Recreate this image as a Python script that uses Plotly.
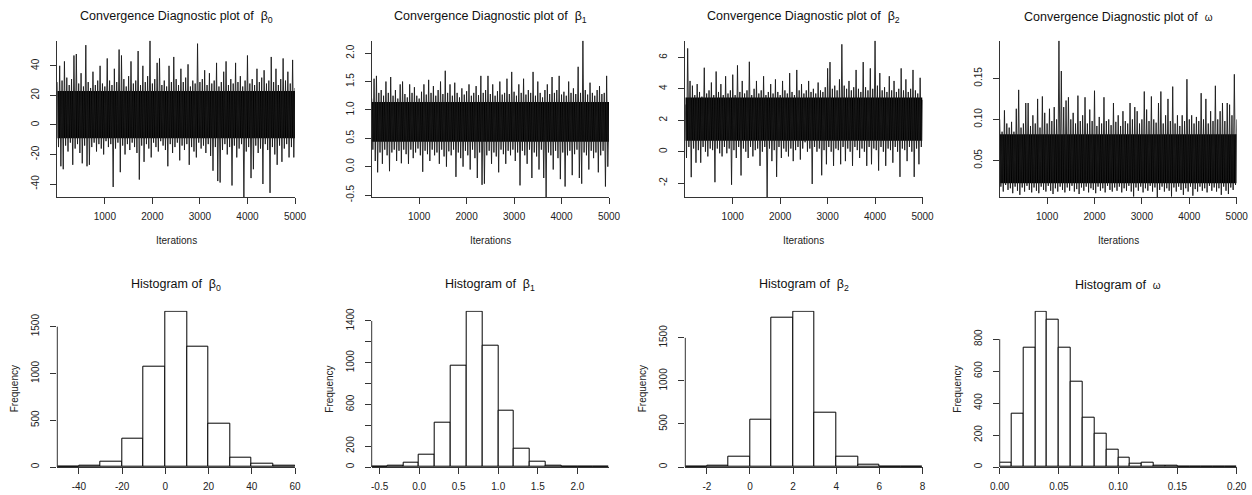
import plotly.graph_objects as go

W, H = 1252, 495
N_ITER = 5000
STEP = 50  # iteration spacing of the envelope values

# ---- trace plots: upper envelope (iters 0,50,..,5000) and lower envelope (iters 25,75,..,4975)
b0_hi = [29, 40, 30, 43, 32, 27, 31, 47, 48, 28,
         35, 26, 54, 29, 25, 36, 27, 30, 40, 28,
         26, 45, 30, 27, 38, 29, 51, 47, 31, 26,
         33, 43, 28, 30, 50, 27, 40, 29, 33, 57,
         28, 31, 42, 45, 27, 30, 26, 40, 29, 46,
         31, 27, 38, 29, 32, 41, 26, 30, 28, 55,
         29, 31, 37, 27, 35, 28, 30, 42, 26, 29,
         36, 43, 27, 31, 28, 42, 29, 33, 26, 30,
         47, 28, 31, 27, 38, 29, 32, 37, 28, 30,
         46, 29, 38, 27, 31, 45, 30, 36, 28, 44,
         25]
b0_lo = [-15, -28, -30, -14, -18, -12, -27, -16, -13, -19,
         -26, -14, -28, -27, -15, -12, -18, -13, -16, -20,
         -11, -15, -13, -42, -16, -12, -32, -14, -20, -13,
         -17, -12, -15, -19, -37, -14, -25, -13, -16, -22,
         -12, -15, -18, -11, -14, -17, -28, -13, -19, -15,
         -12, -24, -14, -17, -13, -27, -15, -18, -22, -12,
         -16, -14, -19, -13, -21, -31, -15, -38, -39, -17,
         -13, -20, -15, -41, -14, -22, -16, -13, -49, -18,
         -15, -36, -30, -14, -19, -16, -40, -13, -17, -46,
         -15, -20, -27, -14, -25, -16, -13, -22, -15, -22]
b0_core = [-9, 23]

b1_hi = [1.2, 1.55, 1.6, 1.3, 1.35, 1.25, 1.5, 1.3, 1.58, 1.25,
         1.35, 1.2, 1.45, 1.5, 1.28, 1.22, 1.45, 1.3, 1.4, 1.25,
         1.2, 1.32, 1.45, 1.27, 1.53, 1.3, 1.42, 1.25, 1.35, 1.5,
         1.28, 1.69, 1.3, 1.45, 1.25, 1.48, 1.3, 1.22, 1.38, 1.27,
         1.33, 1.45, 1.25, 1.3, 1.42, 1.26, 1.6, 1.3, 1.35, 1.6,
         1.28, 1.45, 1.25, 1.33, 1.5, 1.27, 1.3, 1.55, 1.28, 1.67,
         1.32, 1.25, 1.45, 1.3, 1.55, 1.27, 1.35, 1.3, 1.67, 1.25,
         1.5, 1.3, 1.22, 1.35, 1.45, 1.28, 1.58, 1.3, 1.35, 1.6,
         1.27, 1.32, 1.25, 1.5, 1.3, 1.38, 1.28, 1.76, 1.3, 2.22,
         1.35, 1.27, 1.48, 1.3, 1.25, 1.35, 1.42, 1.28, 1.3, 1.6,
         1.0]
b1_lo = [0.3, 0.1, -0.1, 0.25, 0.05, 0.3, 0.2, -0.08, 0.25, 0.3,
         0.1, 0.28, 0.06, 0.3, 0.22, 0.05, 0.3, 0.15, 0.25, 0.32,
         0.2, -0.09, 0.28, 0.22, 0.1, 0.3, 0.2, 0.25, 0.05, 0.3,
         0.18, 0.0, 0.27, 0.2, 0.3, -0.18, 0.25, 0.15, 0.0, 0.28,
         0.2, -0.05, 0.3, 0.15, -0.2, 0.25, -0.32, -0.3, 0.2, 0.28,
         0.05, 0.25, 0.18, -0.1, 0.3, 0.22, 0.05, 0.28, 0.2, 0.3,
         0.1, 0.25, -0.33, 0.28, 0.2, 0.05, 0.3, -0.2, 0.25, 0.18,
         -0.05, 0.3, -0.2, -0.54, 0.25, 0.2, -0.05, 0.28, 0.15, -0.22,
         0.25, -0.35, 0.2, 0.28, -0.15, 0.22, 0.3, -0.2, -0.3, 0.25,
         0.2, -0.05, 0.28, 0.15, 0.25, -0.1, 0.2, 0.28, -0.35, 0.0]
b1_core = [0.44, 1.14]

b2_hi = [3.0, 6.57, 4.5, 4.2, 3.6, 4.3, 3.8, 3.5, 5.34, 3.7,
         3.9, 4.4, 3.6, 5.1, 3.8, 4.3, 3.6, 4.8, 3.7, 3.9,
         4.9, 3.6, 5.49, 3.8, 4.5, 3.7, 3.9, 5.72, 3.6, 4.0,
         4.5, 3.7, 3.9, 4.8, 3.6, 3.8, 4.3, 3.7, 4.6, 3.8,
         3.6, 4.5, 3.9, 3.7, 5.0, 3.8, 3.6, 5.2, 3.9, 4.3,
         3.7, 3.9, 4.5, 3.8, 4.0, 3.7, 4.4, 3.9, 3.8, 4.1,
         5.3, 5.7, 4.0, 4.2, 3.9, 4.6, 6.83, 4.2, 4.0, 4.5,
         3.9, 4.1, 5.2, 4.0, 3.8, 5.7, 4.1, 3.9, 5.3, 4.0,
         7.06, 4.2, 5.0, 3.9, 4.1, 3.8, 4.8, 3.9, 4.5, 3.8,
         4.0, 5.3, 3.9, 4.6, 3.8, 4.0, 5.2, 3.9, 3.7, 4.7,
         3.3]
b2_lo = [-0.4, 0.3, -1.62, 0.2, -0.7, 0.1, -0.7, 0.3, 0.0, -0.3,
         0.2, 0.1, -1.94, 0.2, -0.1, -0.3, 0.3, -0.1, 0.2, -2.1,
         0.1, -0.4, 0.3, -1.51, 0.2, 0.0, -0.4, 0.3, -0.3, 0.1,
         0.2, -0.9, 0.0, 0.3, -2.9, 0.2, -0.6, 0.1, -1.6, 0.3,
         -0.4, 0.2, 0.0, -0.3, 0.2, -0.6, 0.1, 0.3, -0.5, 0.2,
         0.6, 0.0, 0.2, -2.05, 0.3, 0.0, 0.2, -1.5, 0.1, -0.8,
         0.3, 0.0, -0.9, 0.2, 0.1, -0.8, 0.3, -0.6, 0.2, 0.0,
         -0.9, 0.3, 0.1, -0.4, 0.2, 0.0, -0.9, 0.3, -0.8, 0.2,
         0.1, -1.2, 0.3, 0.0, -0.9, 0.2, 0.1, -0.7, 0.3, 0.0,
         -1.6, 0.2, 0.1, -0.6, 0.3, 0.0, -1.6, 0.2, -0.8, 0.3]
b2_core = [0.7, 3.45]

om_hi = [0.100, 0.085, 0.111, 0.095, 0.090, 0.097, 0.085, 0.113, 0.136, 0.090,
         0.095, 0.120, 0.120, 0.092, 0.105, 0.095, 0.125, 0.090, 0.128, 0.108,
         0.095, 0.113, 0.098, 0.115, 0.100, 0.196, 0.159, 0.115, 0.123, 0.127,
         0.100, 0.108, 0.095, 0.129, 0.098, 0.105, 0.127, 0.095, 0.112, 0.098,
         0.135, 0.092, 0.103, 0.095, 0.127, 0.098, 0.100, 0.093, 0.120, 0.097,
         0.105, 0.092, 0.110, 0.098, 0.095, 0.120, 0.100, 0.115, 0.110, 0.095,
         0.100, 0.134, 0.112, 0.098, 0.128, 0.100, 0.096, 0.120, 0.134, 0.095,
         0.105, 0.125, 0.098, 0.140, 0.095, 0.105, 0.092, 0.105, 0.098, 0.149,
         0.100, 0.105, 0.095, 0.103, 0.098, 0.132, 0.100, 0.125, 0.095, 0.110,
         0.098, 0.141, 0.100, 0.110, 0.120, 0.098, 0.120, 0.118, 0.105, 0.155,
         0.100]
om_lo = [0.018, 0.012, 0.020, 0.014, 0.016, 0.010, 0.018, 0.013, 0.008, 0.017,
         0.012, 0.019, 0.014, 0.011, 0.017, 0.013, 0.010, 0.018, 0.014, 0.012,
         0.019, 0.013, 0.009, 0.016, 0.012, 0.018, 0.014, 0.011, 0.017, 0.013,
         0.019, 0.012, 0.015, 0.009, 0.017, 0.013, 0.018, 0.011, 0.016, 0.014,
         0.010, 0.018, 0.013, 0.016, 0.011, 0.019, 0.014, 0.012, 0.017, 0.013,
         0.018, 0.011, 0.016, 0.013, 0.019, 0.012, 0.006, 0.017, 0.013, 0.018,
         0.011, 0.016, 0.013, 0.019, 0.012, 0.017, 0.005, 0.014, 0.018, 0.012,
         0.016, 0.013, 0.006, 0.017, 0.012, 0.018, 0.014, 0.008, 0.016, 0.012,
         0.018, 0.007, 0.015, 0.012, 0.018, 0.013, 0.016, 0.011, 0.019, 0.013,
         0.017, 0.012, 0.016, 0.008, 0.018, 0.013, 0.009, 0.017, 0.014, 0.020]
om_core = [0.022, 0.082]

# ---- histograms: bin edges and counts
h_b0_edges = [-50, -40, -30, -20, -10, 0, 10, 20, 30, 40, 50, 60]
h_b0_counts = [5, 10, 62, 300, 1070, 1660, 1290, 468, 100, 33, 12]
h_b1_edges = [-0.6, -0.4, -0.2, 0.0, 0.2, 0.4, 0.6, 0.8, 1.0, 1.2, 1.4, 1.6, 1.8, 2.0, 2.2, 2.4]
h_b1_counts = [0, 12, 41, 121, 422, 968, 1489, 1162, 536, 175, 51, 12, 1, 0, 1]
h_b2_edges = [-3, -2, -1, 0, 1, 2, 3, 4, 5, 6, 7, 8]
h_b2_counts = [1, 19, 115, 550, 1739, 1804, 635, 115, 23, 2, 1]
h_om_edges = [0.00, 0.01, 0.02, 0.03, 0.04, 0.05, 0.06, 0.07, 0.08, 0.09, 0.10,
              0.11, 0.12, 0.13, 0.14, 0.15, 0.16, 0.17, 0.18, 0.19, 0.20]
h_om_counts = [29, 334, 748, 972, 925, 744, 531, 311, 209, 110, 60, 23, 29, 8, 8, 1, 0, 0, 0, 1]

# ---- tick labels
iter_ticks = [1000, 2000, 3000, 4000, 5000]
tr_b0_ticks = [-40, -20, 0, 20, 40]
tr_b1_ticks = [-0.5, 0.0, 0.5, 1.0, 1.5, 2.0]
tr_b2_ticks = [-2, 0, 2, 4, 6]
tr_om_ticks = [0.05, 0.10, 0.15]
hx_b0_ticks = [-40, -20, 0, 20, 40, 60]
hx_b1_ticks = [-0.5, 0.0, 0.5, 1.0, 1.5, 2.0]
hx_b2_ticks = [-2, 0, 2, 4, 6, 8]
hx_om_ticks = [0.00, 0.05, 0.10, 0.15, 0.20]
hy_b0_ticks = [0, 500, 1000, 1500]
hy_b1_ticks = [0, 200, 600, 1000, 1400]
hy_b1_minor = [400, 800, 1200]
hy_b2_ticks = [0, 500, 1000, 1500]
hy_om_ticks = [0, 200, 400, 600, 800]

params = ["β<sub>0</sub>", "β<sub>1</sub>", "β<sub>2</sub>",
          "<span style='font-size:10px'>ω</span>"]

FONT = "Liberation Sans, Arial, Helvetica, sans-serif"
TICKFONT = dict(family=FONT, size=10, color="#222")
AXC = "#333"

cols_px = [(57.3, 295.0), (371.7, 609.0), (685.3, 922.5), (999.7, 1236.7)]
top_px = (40.7, 197.3)
bot_px = (310.7, 467.0)
PLOT_H = bot_px[1] - bot_px[0]


def xdom(c):
    return [c[0] / W, c[1] / W]


def ydom(r):
    return [1 - r[1] / H, 1 - r[0] / H]


def fmt(v, nd):
    return f"{v:.{nd}f}"


fig = go.Figure()
layout_axes = {}
shapes = []
annotations = []

traces_info = [
    (b0_hi, b0_lo, b0_core, tr_b0_ticks, 0),
    (b1_hi, b1_lo, b1_core, tr_b1_ticks, 1),
    (b2_hi, b2_lo, b2_core, tr_b2_ticks, 0),
    (om_hi, om_lo, om_core, tr_om_ticks, 2),
]

for k, (hi, lo, core, yt, nd) in enumerate(traces_info):
    ax = k + 1
    xs, ys = [], []
    for i in range(len(lo)):
        xs += [i * STEP, i * STEP + STEP / 2]
        ys += [hi[i], lo[i]]
    xs.append(len(lo) * STEP)
    ys.append(hi[-1])
    xa = "x" if ax == 1 else f"x{ax}"
    ya = "y" if ax == 1 else f"y{ax}"
    fig.add_trace(go.Scatter(x=[0, N_ITER, N_ITER, 0, 0],
                             y=[core[0], core[0], core[1], core[1], core[0]],
                             fill="toself", fillcolor="black", mode="lines",
                             line=dict(width=0, color="black"), xaxis=xa, yaxis=ya,
                             hoverinfo="skip", showlegend=False))
    fig.add_trace(go.Scatter(x=xs, y=ys, mode="lines",
                             line=dict(color="#1a1a1a", width=0.9), xaxis=xa, yaxis=ya,
                             showlegend=False))
    layout_axes["xaxis" if ax == 1 else f"xaxis{ax}"] = dict(
        domain=xdom(cols_px[k]), anchor=ya, range=[0, N_ITER],
        tickvals=iter_ticks, ticktext=[str(t) for t in iter_ticks])
    layout_axes["yaxis" if ax == 1 else f"yaxis{ax}"] = dict(
        domain=ydom(top_px), anchor=xa, range=[min(lo), max(hi)],
        tickvals=yt, ticktext=[fmt(t, nd) for t in yt], tickangle=-90)
    cx = (cols_px[k][0] + cols_px[k][1]) / 2 / W
    annotations.append(dict(text="Convergence Diagnostic plot of\u00a0\u00a0" + params[k],
                            x=cx, y=1 - 16.7 / H, xref="paper", yref="paper",
                            showarrow=False, xanchor="center", yanchor="middle",
                            font=dict(family=FONT, size=12.5, color="#111")))
    annotations.append(dict(text="Iterations", x=cx, y=1 - 240 / H, xref="paper",
                            yref="paper", showarrow=False, xanchor="center",
                            yanchor="middle", font=dict(family=FONT, size=10, color="#222")))

hist_info = [
    (h_b0_edges, h_b0_counts, hx_b0_ticks, 0, hy_b0_ticks, []),
    (h_b1_edges, h_b1_counts, hx_b1_ticks, 1, hy_b1_ticks, hy_b1_minor),
    (h_b2_edges, h_b2_counts, hx_b2_ticks, 0, hy_b2_ticks, []),
    (h_om_edges, h_om_counts, hx_om_ticks, 2, hy_om_ticks, []),
]

for k, (edges, counts, xt, nd, yt, yminor) in enumerate(hist_info):
    ax = k + 5
    xa, ya = f"x{ax}", f"y{ax}"
    centers = [(edges[i] + edges[i + 1]) / 2 for i in range(len(counts))]
    widths = [edges[i + 1] - edges[i] for i in range(len(counts))]
    fig.add_trace(go.Bar(x=centers, y=counts, width=widths,
                         marker=dict(color="white", line=dict(color="black", width=1)),
                         xaxis=xa, yaxis=ya, showlegend=False))
    top = max(counts)
    ycfg = dict(domain=ydom(bot_px), anchor=xa, range=[0, top * (1 + 1.0 / PLOT_H)],
                tickvals=yt, ticktext=[str(t) for t in yt],
                tickangle=-90, showline=False)
    if yminor:
        ycfg["minor"] = dict(tickvals=yminor, ticks="outside", ticklen=6,
                             tickwidth=1, tickcolor=AXC, showgrid=False)
    layout_axes[f"xaxis{ax}"] = dict(
        domain=xdom(cols_px[k]), anchor=ya, range=[edges[0], edges[-1]],
        tickvals=xt, ticktext=[fmt(t, nd) for t in xt])
    layout_axes[f"yaxis{ax}"] = ycfg
    shapes.append(dict(type="line", xref=f"x{ax} domain", x0=0, x1=0,
                       yref=ya, y0=0, y1=yt[-1], line=dict(color=AXC, width=1)))
    cx = (cols_px[k][0] + cols_px[k][1]) / 2 / W
    annotations.append(dict(text="Histogram of\u00a0\u00a0" + params[k],
                            x=cx, y=1 - 285 / H, xref="paper", yref="paper",
                            showarrow=False, xanchor="center", yanchor="middle",
                            font=dict(family=FONT, size=12.5, color="#111")))
    annotations.append(dict(text="Frequency", x=(cols_px[k][0] - 43) / W,
                            y=1 - 389 / H, xref="paper", yref="paper", textangle=-90,
                            showarrow=False, xanchor="center", yanchor="middle",
                            font=dict(family=FONT, size=10, color="#222")))

common = dict(ticks="outside", ticklen=6, tickwidth=1, tickcolor=AXC,
              showline=True, linecolor=AXC, linewidth=1, showgrid=False,
              zeroline=False, tickfont=TICKFONT, fixedrange=True, automargin=False)
for name, d in layout_axes.items():
    cfg = dict(common)
    cfg.update(d)
    cfg["ticklabelstandoff"] = 4 if name.startswith("x") else 7
    layout_axes[name] = cfg

fig.update_layout(width=W, height=H, autosize=False,
                  margin=dict(l=0, r=0, t=0, b=0, pad=0),
                  paper_bgcolor="white", plot_bgcolor="white",
                  bargap=0, showlegend=False,
                  shapes=shapes, annotations=annotations, **layout_axes)

fig.write_html("out.html", config={"displayModeBar": False},
               post_script="document.body.style.margin='0';"
                           "document.body.style.overflow='hidden';")
